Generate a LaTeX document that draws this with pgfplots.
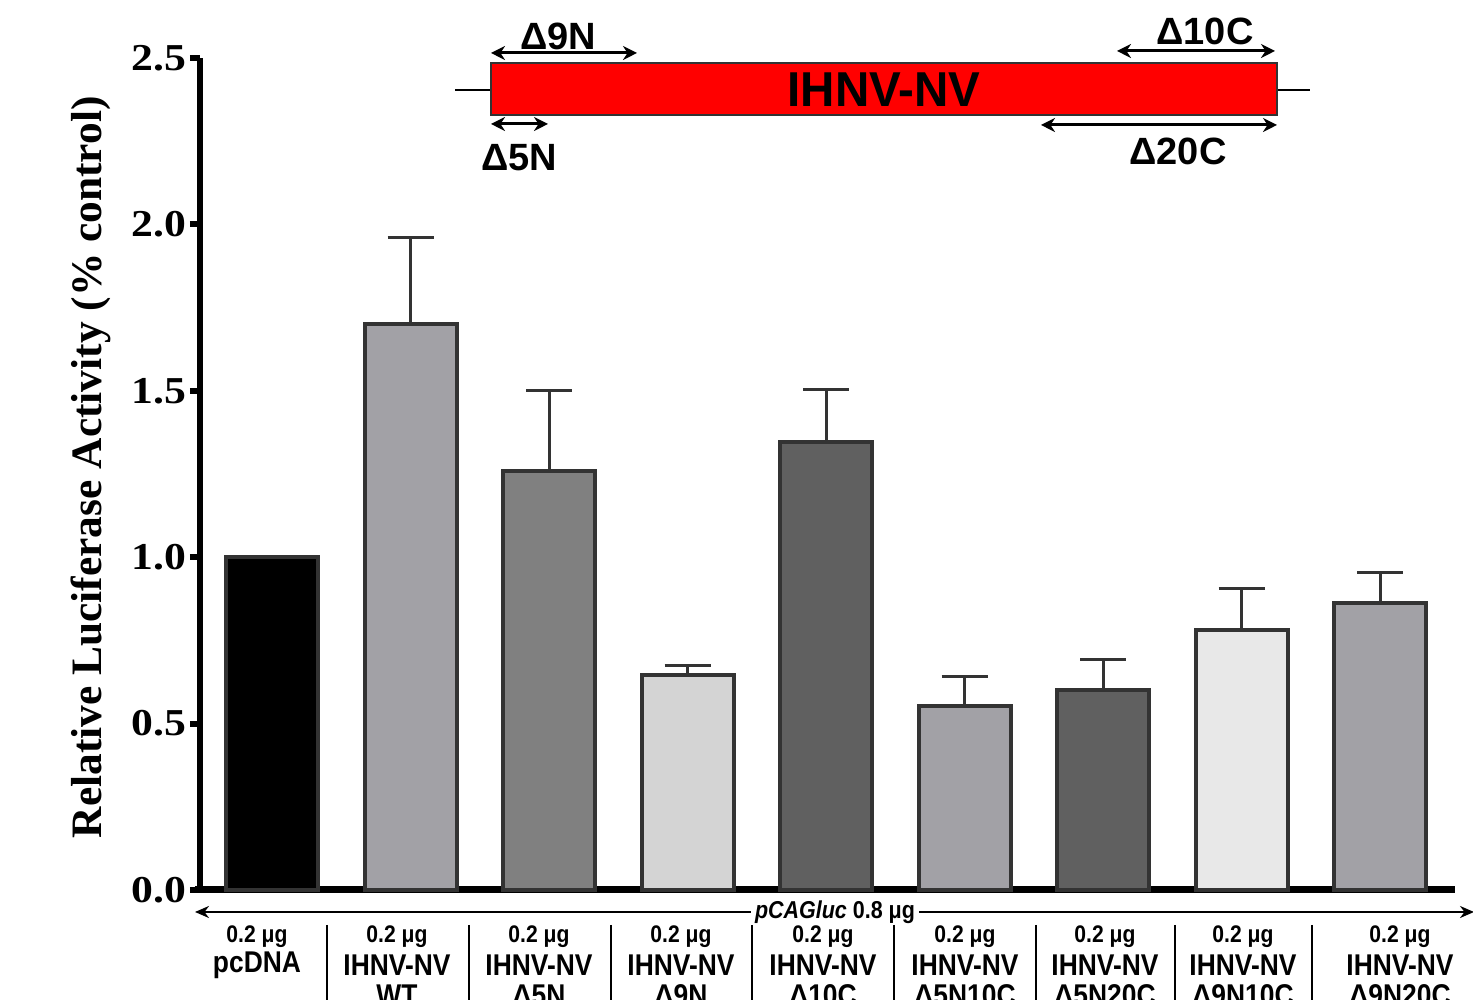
\documentclass[border=0pt]{standalone}
\usepackage{pgfplots}
\pgfplotsset{compat=1.18}
\usepackage{fontspec}
\setmainfont{Liberation Sans}
\newfontfamily\serifb{Liberation Serif}
\newfontfamily\serifw[FakeStretch=1.15]{Liberation Serif}
\newfontfamily\narrow[FakeStretch=0.88]{Liberation Sans}
\newfontfamily\bignarrow[FakeStretch=0.97]{Liberation Sans}
\usetikzlibrary{arrows.meta}
\definecolor{edge}{HTML}{333333}
\definecolor{gA}{HTML}{A2A1A6}
\definecolor{gB}{HTML}{808080}
\definecolor{gC}{HTML}{D4D4D4}
\definecolor{gD}{HTML}{606060}
\definecolor{gE}{HTML}{E8E8E8}
\begin{document}
\begin{tikzpicture}
\useasboundingbox (-100pt,-55pt) rectangle (636.5pt,445pt);
\clip (-100pt,-55pt) rectangle (636.5pt,445pt);
\begin{axis}[
  at={(0pt,0pt)}, anchor=south west,
  scale only axis, width=627.5pt, height=416pt,
  xmin=-0.52, xmax=8.54, ymin=0, ymax=2.5,
  axis x line*=bottom, axis y line*=left,
  every outer x axis line/.append style={-, line width=3.5pt, shorten <=-2.5pt},
  every outer y axis line/.append style={-, line width=3pt},
  xtick=\empty,
  ytick={0,0.5,1,1.5,2,2.5},
  yticklabels={0.0,0.5,1.0,1.5,2.0,2.5},
  tick align=outside, major tick length=5pt,
  ytick style={line width=3pt, black},
  yticklabel style={font=\fontsize{19}{19}\selectfont\serifw\bfseries, inner sep=1.5pt},
  /pgf/number format/assume math mode=true,
  ylabel={Relative Luciferase Activity (\% control)},
  ylabel style={font=\fontsize{21.7}{21.7}\selectfont\serifb\bfseries, at={(axis description cs:-0.087,0.508)}, anchor=center},
  ybar, bar width=0.664,
  every axis plot/.append style={bar shift=0pt, draw=edge, line width=2pt},
  error bars/y dir=plus, error bars/y explicit,
  error bars/error bar style={line width=1.5pt, edge},
  error bars/error mark options={rotate=90, mark size=11.5pt, line width=1.5pt, edge},
  clip=false,
]
\addplot[fill=black] coordinates {(0,1.0)};
\addplot[fill=gA] coordinates {(1,1.70) +- (0,0.26)};
\addplot[fill=gB] coordinates {(2,1.26) +- (0,0.24)};
\addplot[fill=gC] coordinates {(3,0.645) +- (0,0.031)};
\addplot[fill=gD] coordinates {(4,1.346) +- (0,0.159)};
\addplot[fill=gA] coordinates {(5,0.553) +- (0,0.09)};
\addplot[fill=gD] coordinates {(6,0.601) +- (0,0.093)};
\addplot[fill=gE] coordinates {(7,0.781) +- (0,0.126)};
\addplot[fill=gA] coordinates {(8,0.862) +- (0,0.091)};
\end{axis}
% top diagram
\draw[line width=0.6pt] (127.5pt,400pt) -- (555pt,400pt);
\draw[fill=red, line width=1.2pt, draw=edge] (145.5pt,387.5pt) rectangle (538.5pt,413.5pt);
\node[font=\fontsize{24.5}{24.5}\selectfont\bfseries\bignarrow] at (342pt,400pt) {IHNV-NV};
\tikzset{dbl/.style={{Stealth[length=7pt,width=7pt]}-{Stealth[length=7pt,width=7pt]}, line width=1.5pt}}
\draw[dbl] (145.5pt,418.5pt) -- (218.5pt,418.5pt);
\node[font=\fontsize{19}{19}\selectfont\bfseries] at (179pt,427pt) {Δ9N};
\draw[dbl] (458.5pt,419.5pt) -- (537.5pt,419.5pt);
\node[font=\fontsize{19}{19}\selectfont\bfseries] at (502.5pt,429.5pt) {Δ10C};
\draw[dbl] (145.5pt,383pt) -- (174pt,383pt);
\node[font=\fontsize{19}{19}\selectfont\bfseries] at (159.5pt,366pt) {Δ5N};
\draw[dbl] (420.5pt,382.5pt) -- (538.5pt,382.5pt);
\node[font=\fontsize{19}{19}\selectfont\bfseries] at (489pt,369.5pt) {Δ20C};
% bottom annotation
\draw[{Stealth[length=7pt,width=6pt]}-{Stealth[length=7pt,width=6pt]}, line width=1.1pt] (-2.5pt,-11pt) -- (637pt,-11pt);
\node[fill=white, inner sep=2pt, font=\fontsize{12.2}{12.2}\selectfont\bfseries\narrow] at (417.5pt,-11pt) [xshift=-100pt] {\itshape pCAGluc\upshape{} 0.8 μg};
\foreach \x in {63.5,134.5,205.5,276,347,418,487.5,556} {
  \draw[line width=1pt] (\x pt,-17.5pt) -- (\x pt,-60pt);
}
\foreach \x/\a/\b in {28.5/pcDNA/{}, 98.5/IHNV-NV/WT, 169.5/IHNV-NV/Δ5N, 240.5/IHNV-NV/Δ9N, 311.5/IHNV-NV/Δ10C, 382.5/IHNV-NV/Δ5N10C, 452.5/IHNV-NV/Δ5N20C, 521.5/IHNV-NV/Δ9N10C, 600/IHNV-NV/Δ9N20C} {
  \node[font=\fontsize{12}{12}\selectfont\bfseries\narrow] at (\x pt,-23.5pt) {0.2 μg};
  \node[font=\fontsize{15}{15}\selectfont\bfseries\narrow] at (\x pt,-37.5pt) {\a};
  \node[font=\fontsize{15}{15}\selectfont\bfseries\narrow] at (\x pt,-52.5pt) {\b};
}
\end{tikzpicture}
\end{document}
